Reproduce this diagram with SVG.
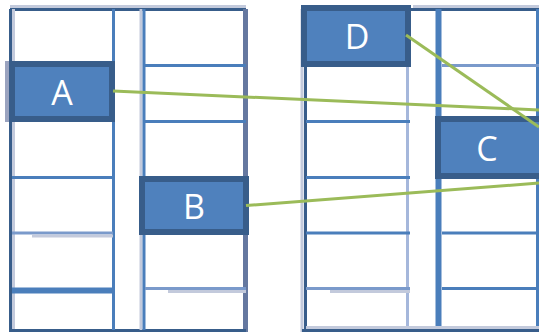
<svg xmlns="http://www.w3.org/2000/svg" width="539" height="332" viewBox="0 0 539 332">
<style>
.frame{stroke:#385D8A;stroke-width:3;fill:none}
.ln{stroke:#4A7EBB;stroke-width:3;fill:none}
.lt{stroke:#A5B7DB;stroke-width:3;fill:none}
.gr{stroke:#C3CADC;stroke-width:3;fill:none}
.box rect.b{fill:#4F81BD;stroke:#385D8A;stroke-width:6}
.box text{fill:#FFFFFF;font-family:"Open Sans","Liberation Sans",sans-serif;font-size:34px;text-anchor:middle;dominant-baseline:central}
.conn{stroke:#9BBB59;stroke-width:3;fill:none;stroke-linecap:butt}
</style>
<rect width="539" height="332" fill="#FFFFFF"/>
<g id="table-left">
  <line class="gr" x1="10" y1="6.5" x2="246" y2="6.5"/>
  <line class="frame" x1="10" y1="9.5" x2="246" y2="9.5"/>
  <line class="gr" x1="13.5" y1="9" x2="13.5" y2="330"/>
  <line class="frame" x1="10.5" y1="9" x2="10.5" y2="332"/>
  <line x1="245.5" y1="9" x2="245.5" y2="332" stroke="#6578A0" stroke-width="5"/>
  <line class="frame" x1="10" y1="330.5" x2="246" y2="330.5"/>
  <line class="ln" x1="113.5" y1="9" x2="113.5" y2="330"/>
  <line class="gr" x1="141" y1="9" x2="141" y2="330"/>
  <line class="ln" x1="144" y1="9" x2="144" y2="330"/>
  <line class="ln" x1="12" y1="177.5" x2="113" y2="177.5"/>
  <line x1="12" y1="233" x2="113" y2="233" stroke="#7A9ACB" stroke-width="3"/>
  <line class="gr" x1="32" y1="236" x2="113" y2="236"/>
  <line x1="12" y1="290.5" x2="113" y2="290.5" stroke="#4A7EBB" stroke-width="6"/>
  <line class="ln" x1="145" y1="65.5" x2="246" y2="65.5"/>
  <line class="ln" x1="145" y1="121.5" x2="246" y2="121.5"/>
  <line x1="145" y1="288.5" x2="246" y2="288.5" stroke="#7A9ACB" stroke-width="3"/>
  <line class="gr" x1="168" y1="291.5" x2="246" y2="291.5"/>
</g>
<g id="table-right">
  <line class="gr" x1="413" y1="6.5" x2="539" y2="6.5"/>
  <line class="frame" x1="410" y1="9.5" x2="539" y2="9.5"/>
  <line class="gr" x1="302" y1="9" x2="302" y2="332"/>
  <line class="frame" x1="305.5" y1="9" x2="305.5" y2="332"/>
  <line class="lt" x1="407.5" y1="9" x2="407.5" y2="330"/>
  <line x1="438.5" y1="9" x2="438.5" y2="332" stroke="#4A7EBB" stroke-width="6"/>
  <line class="ln" x1="537.5" y1="9" x2="537.5" y2="332"/>
  <line class="gr" x1="306" y1="327.5" x2="539" y2="327.5"/>
  <line class="frame" x1="302" y1="330.5" x2="539" y2="330.5"/>
  <line class="ln" x1="306" y1="121.5" x2="410" y2="121.5"/>
  <line class="ln" x1="306" y1="177.5" x2="410" y2="177.5"/>
  <line class="ln" x1="306" y1="233" x2="410" y2="233"/>
  <line x1="306" y1="288.5" x2="410" y2="288.5" stroke="#7A9ACB" stroke-width="3"/>
  <line class="gr" x1="330" y1="291.5" x2="410" y2="291.5"/>
  <line x1="442" y1="65.5" x2="539" y2="65.5" stroke="#7A9ACB" stroke-width="3"/>
  <line class="ln" x1="442" y1="233" x2="539" y2="233"/>
  <line class="ln" x1="442" y1="288.5" x2="539" y2="288.5"/>
</g>
<g id="node-A" class="box">
  <rect x="5" y="61" width="108" height="61" fill="#9AA3BF"/>
  <rect class="b" x="12" y="64" width="100" height="55"/>
  <text x="62" y="92">A</text>
</g>
<g id="node-B" class="box">
  <rect class="b" x="142" y="179" width="104" height="53"/>
  <text x="194" y="206">B</text>
</g>
<g id="node-D" class="box">
  <rect class="b" x="304" y="8" width="104" height="56"/>
  <text x="357" y="36">D</text>
</g>
<g id="node-C" class="box">
  <rect class="b" x="438" y="119" width="104" height="57"/>
  <text x="487" y="148">C</text>
</g>
<g id="connectors">
  <line class="conn" x1="113" y1="91" x2="539" y2="110"/>
  <line class="conn" x1="246" y1="205.5" x2="539" y2="183"/>
  <line class="conn" x1="406" y1="35" x2="539" y2="127"/>
</g>
</svg>
